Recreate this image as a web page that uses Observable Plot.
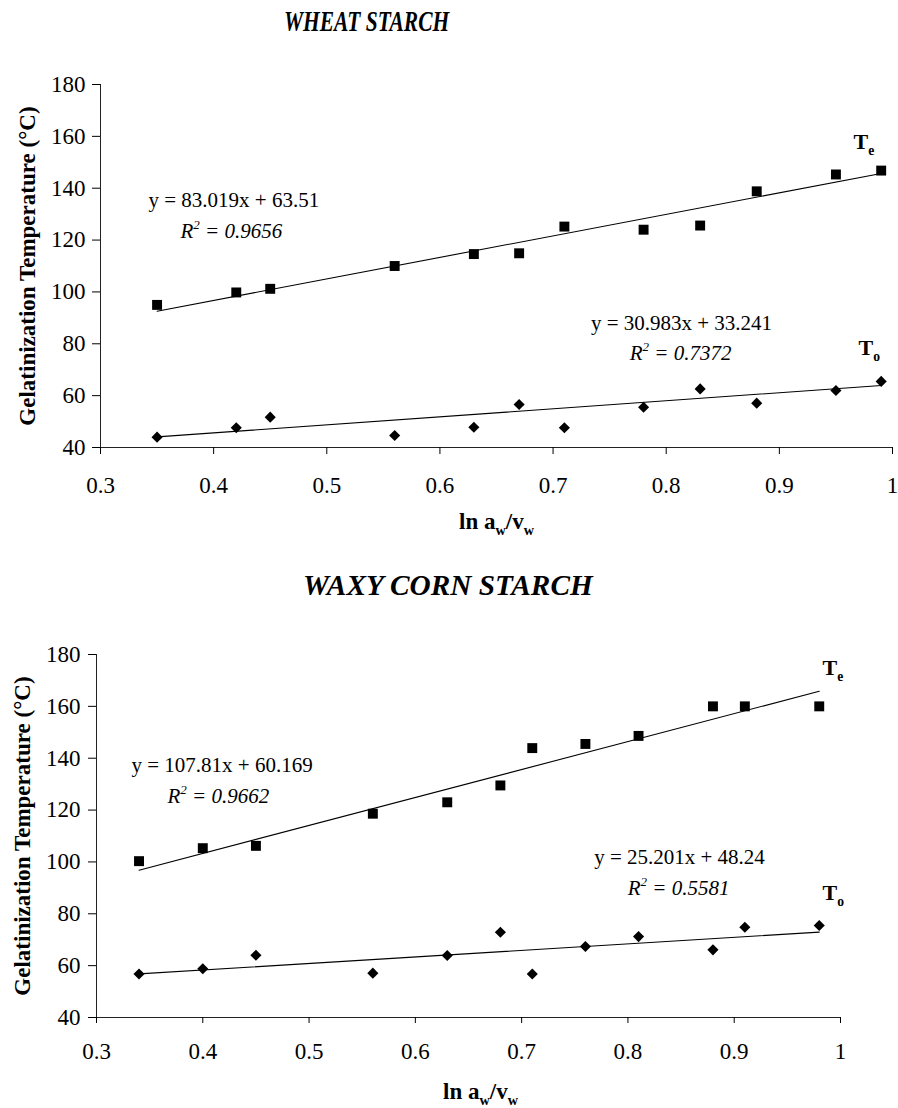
<!DOCTYPE html>
<html>
<head>
<meta charset="utf-8">
<script src="https://cdn.jsdelivr.net/npm/d3@7"></script>
<script src="https://cdn.jsdelivr.net/npm/@observablehq/plot@0.6"></script>
<style>
  html, body { margin: 0; padding: 0; background: #fff; }
  body { width: 898px; height: 1108px; overflow: hidden; font-family: "Liberation Serif", "Times New Roman", serif; }
  .title { position: relative; width: 898px; font-weight: bold; font-style: italic; color: #000; }
  .title span { position: absolute; white-space: nowrap; transform-origin: left center; font-size: 29px; line-height: 29px; }
  svg { display: block; }
</style>
</head>
<body>
<div id="chart"></div>
<script>
// ---- Tick values / labels ----
const xTicks = [0.3, 0.4, 0.5, 0.6, 0.7, 0.8, 0.9, 1];
const xTickLabels = ["0.3", "0.4", "0.5", "0.6", "0.7", "0.8", "0.9", "1"];
const yTicks = [40, 60, 80, 100, 120, 140, 160, 180];
const xDomain = [0.3, 1];
const yDomain = [40, 180];

// ---- Wheat starch ----
const wheatX  = [0.35, 0.42, 0.45, 0.56, 0.63, 0.67, 0.71, 0.78, 0.83, 0.88, 0.95, 0.99];
const wheatTe = [95.0, 99.8, 101.2, 110.0, 114.6, 114.9, 125.2, 124.0, 125.6, 138.8, 145.3, 146.8];
const wheatTo = [44.0, 47.6, 51.7, 44.6, 47.8, 56.6, 47.6, 55.5, 62.6, 57.1, 62.0, 65.5];
const wheatFitTe = [83.019, 63.51];   // slope, intercept
const wheatFitTo = [30.983, 33.241];
const wheatEqTe = ["y = 83.019x + 63.51", "R^{2} = 0.9656"];
const wheatEqTo = ["y = 30.983x + 33.241", "R^{2} = 0.7372"];

// ---- Waxy corn starch ----
const waxyX  = [0.34, 0.40, 0.45, 0.56, 0.63, 0.68, 0.71, 0.76, 0.81, 0.88, 0.91, 0.98];
const waxyTe = [100.3, 105.3, 106.2, 118.6, 123.0, 129.5, 143.9, 145.5, 148.6, 160.0, 160.0, 160.0];
const waxyTo = [56.8, 58.8, 64.0, 57.1, 63.9, 72.9, 56.8, 67.4, 71.2, 66.1, 74.8, 75.5];
const waxyFitTe = [107.81, 60.169];
const waxyFitTo = [25.201, 48.24];
const waxyEqTe = ["y = 107.81x + 60.169", "R^{2} = 0.9662"];
const waxyEqTo = ["y = 25.201x + 48.24", "R^{2} = 0.5581"];

// ---- Text ----
const titles = ["WHEAT STARCH", "WAXY CORN STARCH"];
const yLabel = "Gelatinization Temperature (°C)";
const xLabel = "ln a_{w}/v_{w}";
const seriesLabels = ["T_{e}", "T_{o}"];

const FONT = '"Liberation Serif", "Times New Roman", serif';

function fitLine(xs, fit) {
  const [lo, hi] = d3.extent(xs);
  return [lo, hi].map(x => ({x, y: fit[0] * x + fit[1]}));
}

function panel(cfg) {
  const te = cfg.x.map((x, i) => ({x, y: cfg.te[i]}));
  const to = cfg.x.map((x, i) => ({x, y: cfg.to[i]}));
  const L = cfg.lay;
  return Plot.plot({
    width: 898,
    height: cfg.height,
    marginLeft: cfg.ml, marginRight: cfg.mr, marginTop: cfg.mt, marginBottom: cfg.mb,
    style: {fontFamily: FONT, fontSize: "23px", color: "#000", background: "#fff", overflow: "visible"},
    x: {domain: xDomain},
    y: {domain: yDomain},
    marks: [
      Plot.ruleX([xDomain[0]], {stroke: "#222", strokeWidth: 1}),
      Plot.ruleY([yDomain[0]], {stroke: "#222", strokeWidth: 1}),
      Plot.axisX({ticks: xTicks, tickFormat: d => xTickLabels[xTicks.indexOf(d)], tickSize: cfg.xts, tickPadding: cfg.xtp, label: null, fontSize: 23}),
      Plot.axisY({ticks: yTicks, tickSize: 8, tickPadding: cfg.ytp, label: null, fontSize: 23}),
      Plot.line(fitLine(cfg.x, cfg.fitTe), {x: "x", y: "y", stroke: "#000", strokeWidth: 1.1}),
      Plot.line(fitLine(cfg.x, cfg.fitTo), {x: "x", y: "y", stroke: "#000", strokeWidth: 1.1}),
      Plot.dot(te, {x: "x", y: "y", symbol: "square", r: 5.6, fill: "#000", stroke: "none"}),
      Plot.dot(to, {x: "x", y: "y", symbol: "diamond2", r: 5.0, fill: "#000", stroke: "none"}),
      // equations
      Plot.text([cfg.eqTe[0]], {text: d => d, frameAnchor: "top-left", dx: L.teEq[0], dy: L.teEq[1], textAnchor: "start", lineAnchor: "middle", fontSize: 21, fontFamily: FONT, fill: "#000"}),
      Plot.text([cfg.eqTe[1]], {text: d => d, frameAnchor: "top-left", dx: L.teR2[0], dy: L.teR2[1], textAnchor: "start", lineAnchor: "middle", fontSize: 21, fontStyle: "italic", fontFamily: FONT, fill: "#000", className: "rich"}),
      Plot.text([cfg.eqTo[0]], {text: d => d, frameAnchor: "top-left", dx: L.toEq[0], dy: L.toEq[1], textAnchor: "middle", lineAnchor: "middle", fontSize: 21, fontFamily: FONT, fill: "#000"}),
      Plot.text([cfg.eqTo[1]], {text: d => d, frameAnchor: "top-left", dx: L.toR2[0], dy: L.toR2[1], textAnchor: "middle", lineAnchor: "middle", fontSize: 21, fontStyle: "italic", fontFamily: FONT, fill: "#000", className: "rich"}),
      // series labels
      Plot.text([seriesLabels[0]], {text: d => d, frameAnchor: "top-left", dx: L.teLab[0], dy: L.teLab[1], textAnchor: "start", lineAnchor: "middle", fontSize: 22, fontWeight: "bold", fontFamily: FONT, fill: "#000", className: "rich"}),
      Plot.text([seriesLabels[1]], {text: d => d, frameAnchor: "top-left", dx: L.toLab[0], dy: L.toLab[1], textAnchor: "start", lineAnchor: "middle", fontSize: 22, fontWeight: "bold", fontFamily: FONT, fill: "#000", className: "rich"}),
      // axis labels
      Plot.text([yLabel], {text: d => d, frameAnchor: "left", dx: L.yLab, rotate: -90, textAnchor: "middle", lineAnchor: "middle", fontSize: 23, fontWeight: "bold", fontFamily: FONT, fill: "#000"}),
      Plot.text([xLabel], {text: d => d, frameAnchor: "bottom", dx: L.xLab[0], dy: L.xLab[1], textAnchor: "middle", lineAnchor: "middle", fontSize: 23, fontWeight: "bold", fontFamily: FONT, fill: "#000", className: "rich"})
    ]
  });
}

function richify(svg) {
  d3.select(svg).selectAll("g.rich text").each(function () {
    const t = this.textContent;
    const parts = t.split(/([_^]\{[^}]*\})/).filter(s => s.length);
    if (parts.length < 2) return;
    const base = parseFloat(getComputedStyle(this).fontSize) || 20;
    this.textContent = "";
    let cur = 0;
    for (const p of parts) {
      let txt = p, shift = 0, small = false;
      if (p.startsWith("_{")) { txt = p.slice(2, -1); shift = 0.28 * base; small = true; }
      else if (p.startsWith("^{")) { txt = p.slice(2, -1); shift = -0.42 * base; small = true; }
      const ts = d3.select(this).append("tspan").text(txt);
      const dy = shift - cur;
      if (dy !== 0) ts.attr("dy", dy);
      if (small) ts.attr("font-size", (0.62 * base) + "px");
      cur = shift;
    }
  });
}

const root = document.getElementById("chart");

function addTitle(text, h, left, top, sx) {
  const d = document.createElement("div");
  d.className = "title";
  d.style.height = h + "px";
  const s = document.createElement("span");
  s.textContent = text;
  s.style.left = left + "px";
  s.style.top = top + "px";
  s.style.transform = `scaleX(${sx})`;
  d.appendChild(s);
  root.appendChild(d);
}

addTitle(titles[0], 48, 284, 7, 0.74);
const svg1 = panel({
  x: wheatX, te: wheatTe, to: wheatTo, fitTe: wheatFitTe, fitTo: wheatFitTo,
  eqTe: wheatEqTe, eqTo: wheatEqTo,
  height: 492, ml: 100, mr: 6, mt: 36, mb: 93, xts: 7, xtp: 22, ytp: 7,
  lay: {teEq: [48, 116], teR2: [80, 147], toEq: [581, 239], toR2: [580, 269],
        teLab: [753, 57], toLab: [758, 263], yLab: -73, xLab: [0, 74]}
});
root.appendChild(svg1);
richify(svg1);

addTitle(titles[1], 70, 303, 31, 1.01);
const svg2 = panel({
  x: waxyX, te: waxyTe, to: waxyTo, fitTe: waxyFitTe, fitTo: waxyFitTo,
  eqTe: waxyEqTe, eqTo: waxyEqTo,
  height: 498, ml: 96, mr: 58, mt: 44, mb: 91, xts: 6, xtp: 19, ytp: 8,
  lay: {teEq: [35, 111], teR2: [71, 142], toEq: [583, 203], toR2: [582, 234],
        teLab: [726, 13], toLab: [726, 238], yLab: -74, xLab: [12, 74]}
});
root.appendChild(svg2);
richify(svg2);
</script>
</body>
</html>
